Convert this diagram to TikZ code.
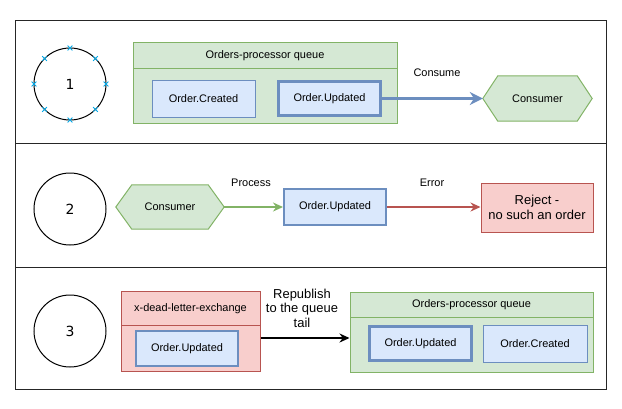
\documentclass[tikz,border=0pt]{standalone}
\usepackage{fontspec}
\setmainfont{Liberation Sans}
\newfontfamily\digitfont{DejaVu Sans}
\usetikzlibrary{positioning,arrows.meta,shapes.misc}

\definecolor{qfill}{HTML}{D5E8D4}
\definecolor{qline}{HTML}{82B366}
\definecolor{mfill}{HTML}{DAE8FC}
\definecolor{mline}{HTML}{6C8EBF}
\definecolor{rfill}{HTML}{F8CECC}
\definecolor{rline}{HTML}{B85450}
\definecolor{selmark}{HTML}{00A8E8}

\tikzset{
  rowbox/.style={draw=black!85, line width=1bp, minimum width=590bp, minimum height=123bp, inner sep=0},
  stepno/.style={circle, draw=black, line width=1bp, minimum size=72bp, inner sep=0, font=\digitfont\fontsize{14}{16}\selectfont},
  queue/.style={draw=qline, fill=qfill, line width=1bp, inner sep=0},
  dlx/.style={draw=rline, fill=rfill, line width=1bp, inner sep=0},
  qtitle/.style={inner sep=0, font=\fontsize{11}{13}\selectfont},
  msg/.style={draw=mline, fill=mfill, line width=1bp, minimum width=103bp, minimum height=37bp, inner sep=0, font=\fontsize{11}{13}\selectfont},
  msgbold/.style={msg, line width=3bp, minimum width=102bp, minimum height=34bp},
  msgmid/.style={msg, line width=2bp, minimum width=102bp, minimum height=35bp},
  hexlabel/.style={inner sep=0, font=\fontsize{11}{13}\selectfont},
  hexshape/.style={draw=qline, fill=qfill, line width=1bp},
  reject/.style={draw=rline, fill=rfill, line width=1bp, minimum width=112bp, minimum height=49bp, inner sep=0, align=center, font=\fontsize{13}{15}\selectfont},
  lbl/.style={inner sep=0, font=\fontsize{11}{13}\selectfont},
  biglbl/.style={inner sep=0, align=center, font=\fontsize{13}{14.5}\selectfont},
  xmark/.style={cross out, draw=selmark, line width=0.8bp, minimum size=4bp, inner sep=0},
  tip/.style={-{Stealth[length=10bp, width=9bp]}},
  bigtip/.style={-{Stealth[length=13bp, width=13bp]}},
}

\begin{document}
\begin{tikzpicture}[x=1bp,y=-1bp]
  \useasboundingbox (0,0) rectangle (622,408);

  % Rows
  \node[rowbox] (row_a) at (311,81.5) {};
  \node[rowbox, minimum height=124bp] (row_b) at (311,205) {};
  \node[rowbox, minimum height=122bp] (row_c) at (311,328) {};

  \node[stepno] (step_a) at (70,84) {1};
  \node[stepno] (step_b) at (70,209) {2};
  \node[stepno] (step_c) at (70,331) {3};
  \foreach \a in {0,45,...,315}
    \node[xmark] at ([shift={(\a:36bp)}]step_a.center) {};

  % Row 1
  \node[queue, minimum width=264bp, minimum height=81bp] (queue_a) at (265,82.5) {};
  \node[qtitle, minimum width=264bp, minimum height=27bp, anchor=north] (title_a) at (queue_a.north) {Orders-processor queue};
  \draw[qline, line width=1bp] (title_a.south west) -- (title_a.south east);
  \node[msg] (created_a) at (203.5,98.5) {Order.Created};
  \node[msgbold] (updated_a) at (329.5,98.5) {Order.Updated};

  \node[hexlabel, minimum width=109bp, minimum height=45bp] (consumer_a) at (537.5,98.5) {};
  \draw[hexshape] (consumer_a.west) -- ([xshift=15bp]consumer_a.north west) -- ([xshift=-15bp]consumer_a.north east)
    -- (consumer_a.east) -- ([xshift=-15bp]consumer_a.south east) -- ([xshift=15bp]consumer_a.south west) -- cycle;
  \node[hexlabel] at (consumer_a) {Consumer};

  \draw[bigtip, mline, line width=3bp] (updated_a.east) -- (consumer_a.west);
  \node[lbl] (consume) at (437,73) {Consume};

  % Row 2
  \node[hexlabel, minimum width=108bp, minimum height=44bp] (consumer_b) at (170,207) {};
  \draw[hexshape] (consumer_b.west) -- ([xshift=16bp]consumer_b.north west) -- ([xshift=-16bp]consumer_b.north east)
    -- (consumer_b.east) -- ([xshift=-16bp]consumer_b.south east) -- ([xshift=16bp]consumer_b.south west) -- cycle;
  \node[hexlabel] at (consumer_b) {Consumer};

  \node[msg, line width=2bp, minimum width=102bp, minimum height=36bp] (updated_b) at (335,207) {Order.Updated};
  \node[reject] (reject_b) at (537,207.5) {Reject -\\no such an order};

  \draw[tip, qline, line width=1.5bp] (consumer_b.east) -- (updated_b.west);
  \draw[tip, rline, line width=1.5bp] (updated_b.east) -- (updated_b.east -| reject_b.west);
  \node[lbl] (process) at (251,183) {Process};
  \node[lbl] (error) at (432,183) {Error};

  % Row 3
  \node[dlx, minimum width=139bp, minimum height=80bp] (dlx_c) at (190.5,331) {};
  \node[qtitle, minimum width=139bp, minimum height=35bp, anchor=north] (title_dlx) at (dlx_c.north) {x-dead-letter-exchange};
  \draw[rline, line width=1bp] (title_dlx.south west) -- (title_dlx.south east);
  \node[msgmid] (updated_c1) at (187,348.5) {Order.Updated};

  \node[queue, minimum width=243bp, minimum height=80bp] (queue_c) at (471.5,332) {};
  \node[qtitle, minimum width=243bp, minimum height=26bp, anchor=north] (title_c) at (queue_c.north) {Orders-processor queue};
  \draw[qline, line width=1bp] (title_c.south west) -- (title_c.south east);
  \node[msgbold] (updated_c2) at (420.5,343.5) {Order.Updated};
  \node[msg, minimum width=104bp] (created_c) at (535,343.5) {Order.Created};

  \coordinate (republish_from) at ([yshift=-7bp]dlx_c.east);
  \draw[tip, black, line width=2bp] (republish_from) -- (republish_from -| queue_c.west);
  \node[biglbl] (republish) at (302,308) {Republish\\to the queue\\tail};
\end{tikzpicture}
\end{document}
